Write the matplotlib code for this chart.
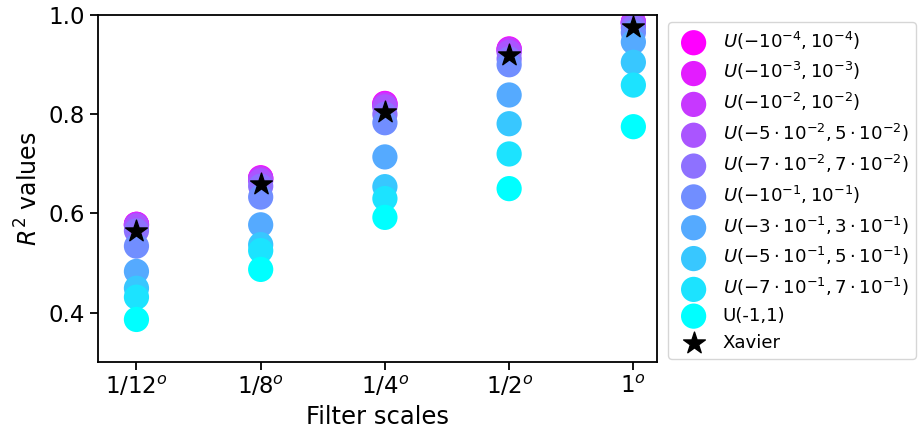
import matplotlib
matplotlib.use("Agg")
import matplotlib.pyplot as plt
import numpy as np

# Filter scales (x categories)
scales = ["1/12$^o$", "1/8$^o$", "1/4$^o$", "1/2$^o$", "1$^o$"]

# Uniform initialisation ranges (legend labels)
init_labels = [
    r"$U(-10^{-4}, 10^{-4})$",
    r"$U(-10^{-3}, 10^{-3})$",
    r"$U(-10^{-2}, 10^{-2})$",
    r"$U(-5\cdot10^{-2}, 5\cdot10^{-2})$",
    r"$U(-7\cdot10^{-2}, 7\cdot10^{-2})$",
    r"$U(-10^{-1}, 10^{-1})$",
    r"$U(-3\cdot10^{-1}, 3\cdot10^{-1})$",
    r"$U(-5\cdot10^{-1}, 5\cdot10^{-1})$",
    r"$U(-7\cdot10^{-1}, 7\cdot10^{-1})$",
    "U(-1,1)",
]

# R^2 values per initialisation, one value per filter scale
r2_u1e4 = [0.578, 0.672, 0.822, 0.932, 0.986]
r2_u1e3 = [0.578, 0.671, 0.821, 0.931, 0.986]
r2_u1e2 = [0.577, 0.670, 0.819, 0.930, 0.985]
r2_u5e2 = [0.575, 0.666, 0.815, 0.925, 0.983]
r2_u7e2 = [0.565, 0.655, 0.800, 0.912, 0.975]
r2_u1e1 = [0.534, 0.633, 0.783, 0.900, 0.965]
r2_u3e1 = [0.483, 0.577, 0.714, 0.839, 0.946]
r2_u5e1 = [0.449, 0.537, 0.654, 0.781, 0.905]
r2_u7e1 = [0.431, 0.525, 0.630, 0.720, 0.859]
r2_u1 = [0.386, 0.487, 0.592, 0.650, 0.775]
r2_xavier = [0.565, 0.660, 0.805, 0.920, 0.977]

r2_uniform = [r2_u1e4, r2_u1e3, r2_u1e2, r2_u5e2, r2_u7e2,
              r2_u1e1, r2_u3e1, r2_u5e1, r2_u7e1, r2_u1]

fig = plt.figure(figsize=(9.24, 4.47), dpi=100)
ax = fig.add_axes([0.106, 0.190, 0.605, 0.776])

x = np.arange(len(scales))
colors = plt.cm.cool(np.linspace(1, 0, len(init_labels)))

for vals, lab, col in zip(r2_uniform, init_labels, colors):
    ax.scatter(x, vals, s=330, color=col, label=lab, edgecolors="none")
ax.scatter(x, r2_xavier, s=270, marker="*", color="black", label="Xavier")

ax.set_xticks(x)
ax.set_xticklabels(scales, fontsize=16.5)
ax.set_xlim(-0.31, 4.19)
ax.set_ylim(0.3, 1.0)
ax.set_yticks([0.4, 0.6, 0.8, 1.0])
ax.tick_params(axis="y", labelsize=16.5)
ax.tick_params(width=1.3, length=6)
for sp in ax.spines.values():
    sp.set_linewidth(1.3)

ax.set_xlabel("Filter scales", fontsize=17.5)
ax.set_ylabel(r"$R^2$ values", fontsize=17)

ax.legend(loc="upper left", bbox_to_anchor=(1.02, 0.98), borderaxespad=0,
          fontsize=13.1, handletextpad=0.6, labelspacing=0.48)

fig.savefig("out.png", dpi=100)
